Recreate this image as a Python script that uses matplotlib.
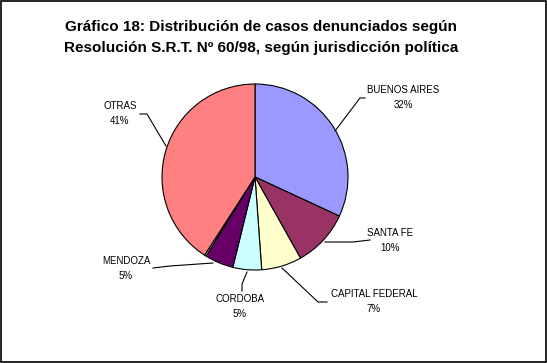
"""
Gráfico 18: casos denunciados según Resolución S.R.T. Nº 60/98, por jurisdicción
"""

import matplotlib.pyplot as plt
from matplotlib.patches import Rectangle

plt.rcParams['font.family'] = ['Liberation Sans', 'DejaVu Sans']

# datos
jurisdicciones = ['BUENOS AIRES', 'SANTA FE', 'CAPITAL FEDERAL', 'CORDOBA', 'MENDOZA', '', 'OTRAS']
porcentajes = [32, 10, 7, 5, 5, 0.3, 41]
etiquetas_pct = ['32%', '10%', '7%', '5%', '5%', '', '41%']
colores = ['#9999FF', '#993366', '#FFFFCC', '#CCFFFF', '#660066', '#FFFFFF', '#FF8080']

titulo = ['Gráfico 18: Distribución de casos denunciados según',
          'Resolución S.R.T. Nº 60/98, según jurisdicción política']

# posiciones de etiquetas (pixeles) y líneas guía
pos_texto = {
    'BUENOS AIRES': (403, 90),
    'SANTA FE': (390, 233),
    'CAPITAL FEDERAL': (374, 294),
    'CORDOBA': (240, 299),
    'MENDOZA': (126, 261),
    'OTRAS': (120, 106),
}
guias = {
    'BUENOS AIRES': [(335, 131), (360, 98), (365, 98)],
    'SANTA FE': [(325, 242), (353, 242), (370, 240)],
    'CAPITAL FEDERAL': [(282, 268), (318, 302), (327, 302)],
    'CORDOBA': [(247, 272), (242, 284), (242, 291)],
    'MENDOZA': [(213, 263), (170, 266), (153, 268)],
    'OTRAS': [(166, 146), (147, 114), (140, 114)],
}

fig = plt.figure(figsize=(5.47, 3.63), dpi=100)
ax = fig.add_axes([0, 0, 1, 1])

# eje y invertido: counterclock=True se ve en sentido horario
ax.pie(porcentajes, colors=colores, center=(255, 177), radius=93,
       startangle=270, counterclock=True, frame=True,
       wedgeprops=dict(edgecolor='black', linewidth=0.8))
ax.set_xlim(0, 547)
ax.set_ylim(363, 0)
ax.set_aspect('equal')
ax.axis('off')

for nombre, pct in zip(jurisdicciones, etiquetas_pct):
    if not nombre:
        continue
    x, y = pos_texto[nombre]
    ax.text(x, y, nombre, ha='center', va='center', fontsize=7)
    ax.text(x, y + 15, pct, ha='center', va='center', fontsize=7)
    xs, ys = zip(*guias[nombre])
    ax.plot(xs, ys, color='black', linewidth=0.8)

ax.text(261, 27, titulo[0], ha='center', va='center', fontsize=11, fontweight='bold')
ax.text(261, 48, titulo[1], ha='center', va='center', fontsize=11, fontweight='bold')

# marco
fig.patches.append(Rectangle((0.001, 0.002), 0.997, 0.996, transform=fig.transFigure,
                             fill=False, edgecolor='black', linewidth=1.2))

fig.savefig('out.png', dpi=100)
